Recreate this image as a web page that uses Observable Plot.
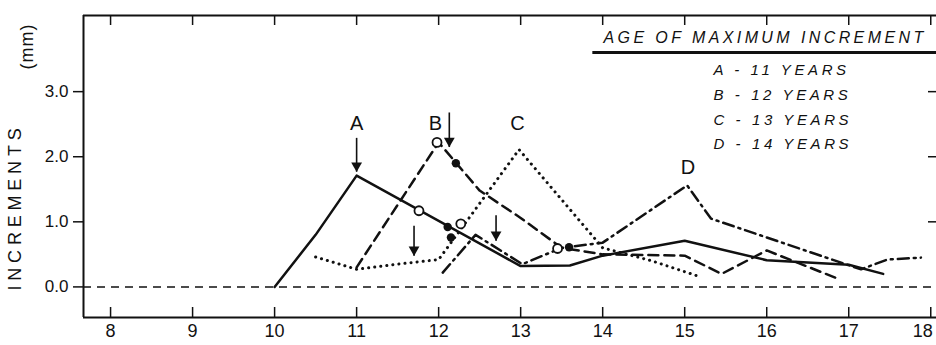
<!DOCTYPE html>
<html>
<head>
<meta charset="utf-8">
<script src="https://cdn.jsdelivr.net/npm/d3@7"></script>
<script src="https://cdn.jsdelivr.net/npm/@observablehq/plot@0.6"></script>
<style>
  html, body { margin: 0; padding: 0; background: #ffffff; }
  #chart { width: 936px; height: 345px; overflow: hidden; }
  #chart svg { font-family: "Liberation Sans", Arial, Helvetica, sans-serif; }
</style>
</head>
<body>
<div id="chart"></div>
<script>
// ---------- data ----------
const ageA = [10, 10.5, 11, 13, 13.6, 14, 15, 16, 17, 17.42];
const incA = [0, 0.8, 1.71, 0.32, 0.33, 0.48, 0.71, 0.41, 0.34, 0.2];

const ageB = [11, 12, 12.5, 13, 13.5, 14, 15, 15.45, 16, 16.88];
const incB = [0.3, 2.22, 1.48, 1.06, 0.6, 0.5, 0.48, 0.2, 0.56, 0.12];

const ageC = [10.5, 11, 11.5, 12.0, 12.98, 14, 14.6, 15.2];
const incC = [0.46, 0.27, 0.35, 0.42, 2.11, 0.6, 0.4, 0.15];

const ageD = [12.05, 12.45, 13.02, 13.5, 14, 15.03, 15.32, 17.15, 17.47, 17.88];
const incD = [0.22, 0.8, 0.35, 0.6, 0.68, 1.56, 1.05, 0.27, 0.42, 0.45];

// marker points (open / filled circles)
const openX = [11.98, 11.76, 12.27, 13.45];
const openY = [2.22, 1.17, 0.97, 0.59];
const filledX = [12.21, 12.11, 12.15, 13.59];
const filledY = [1.9, 0.92, 0.76, 0.61];

// arrows: x, top value, tip value
const arrowX = [11.0, 12.13, 11.70, 12.70];
const arrowTop = [2.29, 2.68, 0.94, 1.10];
const arrowTip = [1.77, 2.15, 0.48, 0.71];

// peak letters
const peakLetters = ["A", "B", "C", "D"];
const peakLetterX = [11.0, 11.96, 12.96, 15.04];
const peakLetterY = [2.51, 2.51, 2.51, 1.83];

// legend
const legendTitle = "AGE OF MAXIMUM INCREMENT";
const legendTitleX = 14.01;
const legendTitleY = 3.83;
const legendRuleX = [13.88, 18.07];
const legendRuleY = 3.60;
const legendEntries = ["A - 11 YEARS", "B - 12 YEARS", "C - 13 YEARS", "D - 14 YEARS"];
const legendEntryX = 15.35;
const legendEntryY = [3.33, 2.94, 2.56, 2.19];

// axes
const xTickValues = [8, 9, 10, 11, 12, 13, 14, 15, 16, 17, 18];
const xTickLabels = ["8", "9", "10", "11", "12", "13", "14", "15", "16", "17", "18"];
const yTickValues = [0, 1, 2, 3];
const yTickLabels = ["0.0", "1.0", "2.0", "3.0"];
const yTitleMain = "INCREMENTS";
const yTitleUnit = "(mm)";

const xMin = 7.67, xMax = 18.07;
const yMin = -0.47, yMax = 4.17;

// ---------- build ----------
const W = 936, H = 345, mL = 83, mR = 0, mT = 15, mB = 28;
const unitPerPxX = (xMax - xMin) / (W - mL - mR);
const unitPerPxY = (yMax - yMin) / (H - mT - mB);
const tickLenY = 10 * unitPerPxY;  // inward x-tick length in y units
const toRows = (xs, ys) => xs.map((x, i) => ({age: x, inc: ys[i]}));
const rowsA = toRows(ageA, incA);
const rowsB = toRows(ageB, incB);
const rowsC = toRows(ageC, incC);
const rowsD = toRows(ageD, incD);
const openRows = toRows(openX, openY);
const filledRows = toRows(filledX, filledY);
const arrowRows = arrowX.map((x, i) => ({x, top: arrowTop[i], tip: arrowTip[i]}));
const ink = "#111111";
const lw = 2.5;

const nLast = xTickValues.length - 1;

const chart = Plot.plot({
  width: W,
  height: H,
  marginLeft: mL,
  marginRight: mR,
  marginTop: mT,
  marginBottom: mB,
  x: {domain: [xMin, xMax], axis: null},
  y: {domain: [yMin, yMax], axis: null},
  style: {background: "#ffffff", color: ink},
  marks: [
    // zero baseline
    Plot.ruleY([0], {x1: xMin, x2: xMax, stroke: ink, strokeWidth: 1.5, strokeDasharray: "8,6"}),
    // series
    Plot.line(rowsA, {x: "age", y: "inc", stroke: ink, strokeWidth: lw}),
    Plot.line(rowsB, {x: "age", y: "inc", stroke: ink, strokeWidth: lw, strokeDasharray: "10,6"}),
    Plot.line(rowsC, {x: "age", y: "inc", stroke: ink, strokeWidth: 3, strokeDasharray: "0.1,6", strokeLinecap: "round"}),
    Plot.line(rowsD, {x: "age", y: "inc", stroke: ink, strokeWidth: lw, strokeDasharray: "11,5,2,5"}),
    // markers
    Plot.dot(openRows, {x: "age", y: "inc", r: 4.5, fill: "white", stroke: ink, strokeWidth: 1.8}),
    Plot.dot(filledRows, {x: "age", y: "inc", r: 4.2, fill: ink, stroke: "none"}),
    // arrows
    Plot.link(arrowRows, {x1: "x", y1: "top", x2: "x", y2: "tip", stroke: ink, strokeWidth: 1.6}),
    Plot.dot(arrowRows, {x: "x", y: "tip", symbol: "triangle", rotate: 180, r: 4, fill: ink, stroke: "none", dy: -6}),
    // peak letters
    Plot.text(peakLetters, {x: (d, i) => peakLetterX[i], y: (d, i) => peakLetterY[i], text: d => d, fontSize: 20, fill: ink}),
    // legend
    Plot.text([legendTitle], {x: legendTitleX, y: legendTitleY, text: d => d, textAnchor: "start", fontSize: 16, fontStyle: "italic", fill: ink}),
    Plot.ruleY([legendRuleY], {x1: legendRuleX[0], x2: legendRuleX[1], stroke: ink, strokeWidth: 3}),
    Plot.text(legendEntries, {x: legendEntryX, y: (d, i) => legendEntryY[i], text: d => d, textAnchor: "start", fontSize: 15, fontStyle: "italic", fill: ink}),
    // frame (left, top, bottom)
    Plot.ruleX([xMin], {y1: yMin, y2: yMax, stroke: ink, strokeWidth: 2}),
    Plot.ruleY([yMax], {x1: xMin, x2: xMax, stroke: ink, strokeWidth: 2}),
    Plot.ruleY([yMin], {x1: xMin, x2: xMax, stroke: ink, strokeWidth: 2}),
    // x ticks (inward, bottom and top)
    Plot.ruleX(xTickValues, {y1: yMin, y2: yMin + tickLenY, stroke: ink, strokeWidth: 1.5}),
    Plot.ruleX(xTickValues, {y1: yMax - tickLenY, y2: yMax, stroke: ink, strokeWidth: 1.5}),
    // y ticks (outside left, inward right)
    Plot.ruleY(yTickValues, {x1: xMin - 10 * unitPerPxX, x2: xMin, stroke: ink, strokeWidth: 1.5}),
    Plot.ruleY(yTickValues.filter(v => v > 0), {x1: xMax - 8 * unitPerPxX, x2: xMax, stroke: ink, strokeWidth: 1.5}),
    // x tick labels
    Plot.text(xTickLabels.slice(0, nLast), {x: (d, i) => xTickValues[i], y: yMin, dy: 14, text: d => d, fontSize: 18, fill: ink}),
    Plot.text(xTickLabels.slice(nLast), {x: (d, i) => xTickValues[nLast + i], y: yMin, dy: 14, dx: -8, text: d => d, fontSize: 18, fill: ink}),
    // y tick labels
    Plot.text(yTickLabels, {x: xMin, y: (d, i) => yTickValues[i], dx: -15, textAnchor: "end", text: d => d, fontSize: 17, fill: ink}),
    // y title
    Plot.text([yTitleMain], {frameAnchor: "bottom-left", dx: -63, dy: -27, rotate: -90, textAnchor: "start", text: d => d, fontSize: 18, fill: ink}),
    Plot.text([yTitleUnit], {frameAnchor: "top-left", dx: -63, dy: 8, rotate: -90, textAnchor: "end", text: d => d, fontSize: 18, fill: ink})
  ]
});

document.getElementById("chart").appendChild(chart);

// letter spacing (typographic styling), matched by text content
const spacing = new Map([
  [legendTitle, 3.4],
  [yTitleMain, 4.8],
  [yTitleUnit, 1]
]);
legendEntries.forEach(t => spacing.set(t, 3.6));
chart.querySelectorAll("text").forEach(node => {
  const t = (node.textContent || "").trim();
  if (spacing.has(t)) {
    const v = spacing.get(t) + "px";
    node.setAttribute("letter-spacing", v);
    node.style.letterSpacing = v;
  }
});
</script>
</body>
</html>
